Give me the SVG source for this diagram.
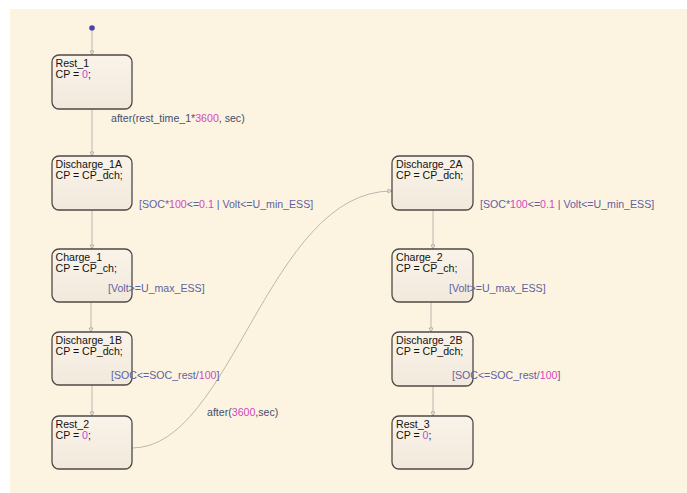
<svg xmlns="http://www.w3.org/2000/svg" width="687" height="493" viewBox="0 0 687 493">
<style>
.st{fill:url(#g);stroke:#4e4a45;stroke-width:1.3}
.t{font-family:"Liberation Sans",Arial,sans-serif;font-size:10.6px;fill:#111}
.n{fill:#b64fcf}
.lb{font-family:"Liberation Sans",Arial,sans-serif;font-size:10.6px;fill:#5d62a0}
.la{font-family:"Liberation Sans",Arial,sans-serif;font-size:10.6px;fill:#3f4f72}
.m{fill:#d04abf}
.c{fill:none;stroke:#b3b0ac;stroke-width:0.9;marker-end:url(#a)}
</style>
<defs>
<linearGradient id="g" x1="0" y1="0" x2="0" y2="1">
<stop offset="0" stop-color="#faf3e9"/>
<stop offset="1" stop-color="#f2e9dc"/>
</linearGradient>
<marker id="a" markerWidth="6" markerHeight="6" refX="5" refY="3" orient="auto" markerUnits="userSpaceOnUse">
<path d="M1,1.2 L5,3 L1,4.8 Z" fill="#fdf3e1" stroke="#9a9794" stroke-width="0.7"/>
</marker>
</defs>
<rect x="0" y="0" width="687" height="493" fill="#ffffff"/>
<rect x="10" y="9" width="677" height="484" fill="#fdf3e1"/>

<g id="connectors">
<circle cx="92" cy="28" r="2.8" fill="#4747a6"/>
<path class="c" d="M92,30.5 V55"/>
<path class="c" d="M92,109 V156"/>
<path class="c" d="M92,210 V249"/>
<path class="c" d="M91,302 V332"/>
<path class="c" d="M92,385 V416"/>
<path class="c" d="M132,448 C232,448 268,191 392,191"/>
<path class="c" d="M433,210 V249"/>
<path class="c" d="M431,302 V332"/>
<path class="c" d="M433,386 V416"/>
<path d="M97,385 L112,380" fill="none" stroke="#a9a6a2" stroke-width="0.8" stroke-dasharray="1.5,1.5"/>
</g>

<g id="Rest_1">
<rect class="st" x="52" y="55" width="80" height="54" rx="7"/>
<text class="t" x="55.5" y="66.5">Rest_1</text>
<text class="t" x="55.5" y="77.5">CP = <tspan class="n">0</tspan>;</text>
</g>
<g id="Discharge_1A">
<rect class="st" x="52" y="156" width="80" height="54" rx="7"/>
<text class="t" x="55.5" y="167.5">Discharge_1A</text>
<text class="t" x="55.5" y="178.5">CP = CP_dch;</text>
</g>
<g id="Charge_1">
<rect class="st" x="52" y="249" width="80" height="53" rx="7"/>
<text class="t" x="55.5" y="260.5">Charge_1</text>
<text class="t" x="55.5" y="271.5">CP = CP_ch;</text>
</g>
<g id="Discharge_1B">
<rect class="st" x="52" y="332" width="80" height="53" rx="7"/>
<text class="t" x="55.5" y="343.5">Discharge_1B</text>
<text class="t" x="55.5" y="354.5">CP = CP_dch;</text>
</g>
<g id="Rest_2">
<rect class="st" x="52" y="416" width="80" height="53" rx="7"/>
<text class="t" x="55.5" y="427.5">Rest_2</text>
<text class="t" x="55.5" y="438.5">CP = <tspan class="n">0</tspan>;</text>
</g>
<g id="Discharge_2A">
<rect class="st" x="392" y="156" width="81" height="54" rx="7"/>
<text class="t" x="396" y="167.5">Discharge_2A</text>
<text class="t" x="396" y="178.5">CP = CP_dch;</text>
</g>
<g id="Charge_2">
<rect class="st" x="392" y="249" width="81" height="53" rx="7"/>
<text class="t" x="396" y="260.5">Charge_2</text>
<text class="t" x="396" y="271.5">CP = CP_ch;</text>
</g>
<g id="Discharge_2B">
<rect class="st" x="392" y="332" width="81" height="54" rx="7"/>
<text class="t" x="396" y="343.5">Discharge_2B</text>
<text class="t" x="396" y="354.5">CP = CP_dch;</text>
</g>
<g id="Rest_3">
<rect class="st" x="392" y="416" width="81" height="53" rx="7"/>
<text class="t" x="396" y="427.5">Rest_3</text>
<text class="t" x="396" y="438.5">CP = <tspan class="n">0</tspan>;</text>
</g>

<g id="labels">
<text class="la" x="111" y="122">after(rest_time_1*<tspan class="m">3600</tspan>, sec)</text>
<text class="lb" x="139" y="208">[SOC*<tspan class="m">100</tspan>&lt;=<tspan class="m">0.1</tspan> | Volt&lt;=U_min_ESS]</text>
<text class="lb" x="108" y="292">[Volt&gt;=U_max_ESS]</text>
<text class="lb" x="111" y="379">[SOC&lt;=SOC_rest/<tspan class="m">100</tspan>]</text>
<text class="la" x="207" y="416">after(<tspan class="m">3600</tspan>,sec)</text>
<text class="lb" x="480" y="208">[SOC*<tspan class="m">100</tspan>&lt;=<tspan class="m">0.1</tspan> | Volt&lt;=U_min_ESS]</text>
<text class="lb" x="449" y="292">[Volt&gt;=U_max_ESS]</text>
<text class="lb" x="452" y="379">[SOC&lt;=SOC_rest/<tspan class="m">100</tspan>]</text>
</g>
</svg>
